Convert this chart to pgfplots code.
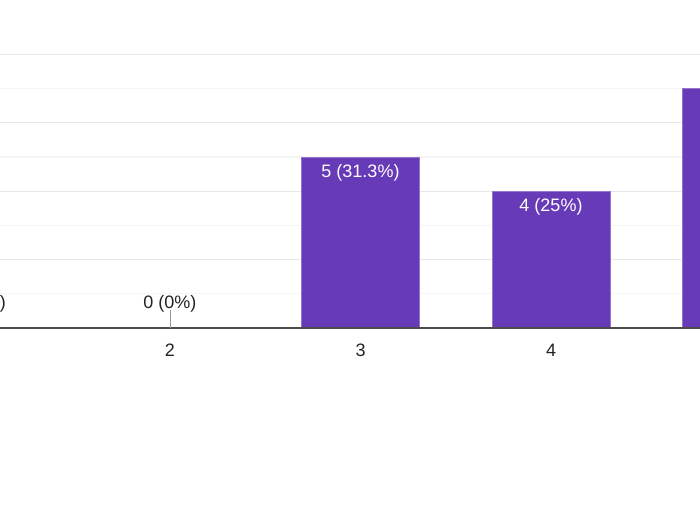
\documentclass[border=0pt]{standalone}
\usepackage{fontspec}
\setmainfont{Liberation Sans}
\usepackage{pgfplots}
\pgfplotsset{compat=1.18}
\definecolor{barfill}{HTML}{673AB7}
\definecolor{baredge}{HTML}{9575CD}
\definecolor{txt}{HTML}{222222}
\begin{document}
\begin{tikzpicture}
\useasboundingbox (0,0) rectangle (350pt,262.5pt);
\clip (0,0) rectangle (350pt,262.5pt);
\begin{axis}[
  at={(0pt,98.5pt)}, anchor=south west,
  scale only axis, width=350pt, height=136.75pt,
  xmin=1.10761, xmax=4.78215, ymin=0, ymax=8,
  axis line style={draw=none},
  xtick={1,2,3,4,5}, xticklabels={1,2,3,4,5},
  ytick={0,2,4,6,8}, minor ytick={1,3,5,7},
  yticklabels={}, major tick length=0pt, minor tick length=0pt,
  ymajorgrids, yminorgrids,
  major grid style={draw=black!9, line width=0.6pt},
  minor grid style={draw=black!4, line width=0.6pt},
  xticklabel style={anchor=base, yshift=-14pt, text=txt, font=\fontsize{9}{10}\selectfont},
  ybar, bar width=59pt, bar shift=0pt,
  point meta=explicit symbolic,
  clip=false,
]
\addplot[fill=barfill, draw=barfill, line width=0.5pt,
  nodes near coords,
  nodes near coords style={anchor=base, yshift=10pt, inner sep=0pt, text=txt,
    font=\fontsize{9}{10}\selectfont,
    append after command={([yshift=-1pt]\tikzlastnode.base) edge[draw=black!40, line width=0.5pt] ([yshift=-10pt]\tikzlastnode.base)}}]
  coordinates {(1,0) [0 (0\%)] (2,0) [0 (0\%)]};
\addplot[fill=barfill, draw=baredge, line width=0.5pt,
  nodes near coords,
  nodes near coords style={anchor=base, yshift=-10pt, inner sep=0pt, text=white,
    font=\fontsize{9}{10}\selectfont}]
  coordinates {(3,5) [5 (31.3\%)] (4,4) [4 (25\%)] (5,7) [7 (43.8\%)]};
\draw[draw=black!70, line width=0.75pt] (rel axis cs:0,0) -- (rel axis cs:1,0);
\end{axis}
\end{tikzpicture}
\end{document}
